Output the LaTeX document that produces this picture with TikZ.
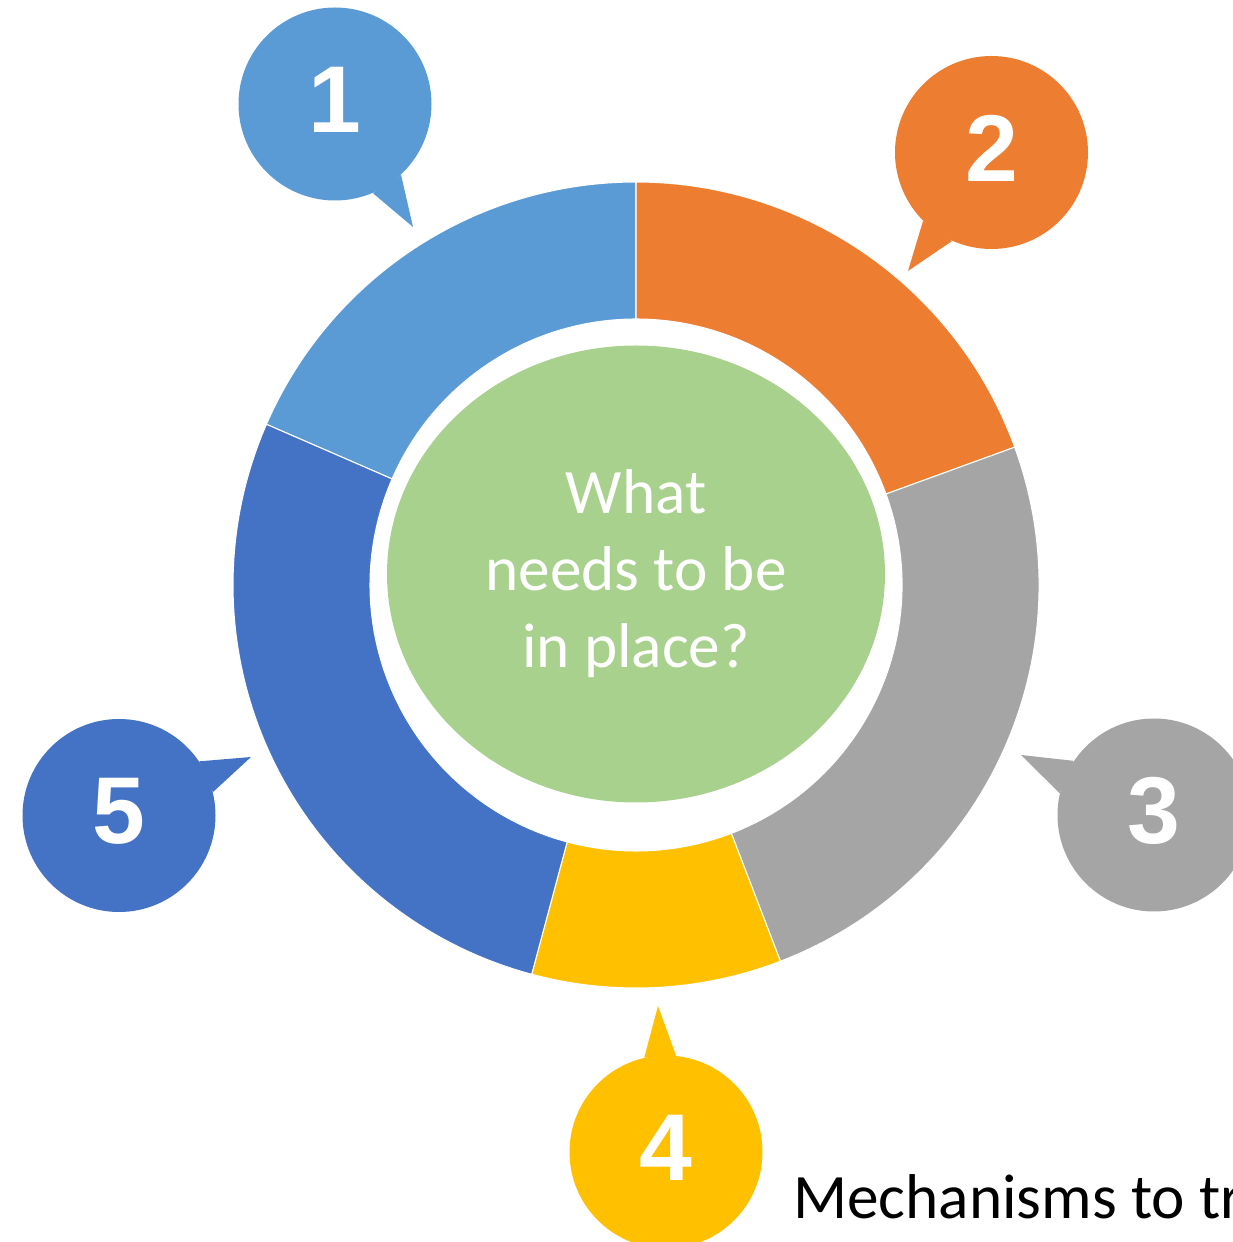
\documentclass[tikz,border=0pt]{standalone}
\usepackage{fontspec}
\setmainfont{Carlito}
\newfontfamily\numfont{Liberation Sans}
\usetikzlibrary{calc, shapes.geometric}
\definecolor{c1}{HTML}{5B9BD5}
\definecolor{c2}{HTML}{ED7D31}
\definecolor{c3}{HTML}{A5A5A5}
\definecolor{c4}{HTML}{FFC000}
\definecolor{c5}{HTML}{4472C4}
\definecolor{hubcolor}{HTML}{A9D18E}

\begin{document}
\begin{tikzpicture}[
    every node/.style={inner sep=0pt},
    hub/.style={
        ellipse, fill=hubcolor, minimum width=9.96cm, minimum height=9.14cm,
        text=white, align=center, font=\fontsize{36}{43.8}\selectfont,
    },
    bubble/.style={
        circle, fill=#1, minimum size=3.86cm, text=white, text depth=0.18cm,
        font=\numfont\bfseries\fontsize{54}{60}\selectfont,
    },
    seg/.style={fill=#1, draw=white, line width=0.6pt},
    note/.style={anchor=base west, text=black, font=\fontsize{36}{43.8}\selectfont},
]
\useasboundingbox (0,0) rectangle (24.66,24.84);
\clip (0,0) rectangle (24.66,24.84);

% ---------------------------------------------------------------- ring
\coordinate (ring) at (12.72, 13.14);
\foreach \a/\b/\n in {90/156.5/1, 20/90/2, -69/20/3, -105/-69/4, 156.5/255/5}{
    \filldraw[seg=c\n] ($(ring)+(\a:8.06)$) arc[start angle=\a, end angle=\b, radius=8.06]
        -- ($(ring)+(\b:5.32)$) arc[start angle=\b, end angle=\a, radius=5.32] -- cycle;
}

% ---------------------------------------------------------------- hub
\node[hub] (hub) at (12.72, 13.36) {What\\ needs to be\\ in place?};

% ---------------------------------------------------------------- bubbles
\foreach \n/\pos/\tip/\a/\b in {
    1/{6.70,22.76}/{8.26,20.30}/-67/-47,
    2/{19.83,21.79}/{18.16,19.42}/-135/-114,
    3/{23.08,8.54}/{20.42,9.74}/146/167,
    4/{13.32,1.80}/{13.16,4.72}/84/103,
    5/{2.38,8.53}/{5.02,9.70}/14/34}{
    \node[bubble=c\n] (b\n) at (\pos) {\n};
    \coordinate (t\n) at (\tip);
    \fill[c\n] (b\n.\a) -- (t\n) -- (b\n.\b) -- cycle;
}

% ---------------------------------------------------------------- caption
\node[note] (mech) at (15.86, 0.48) {Mechanisms to tr};

\end{tikzpicture}
\end{document}
